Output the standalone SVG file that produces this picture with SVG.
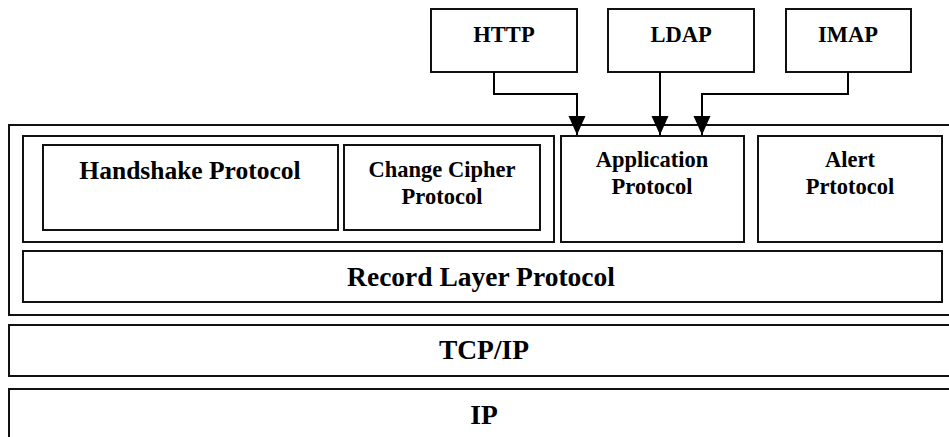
<svg xmlns="http://www.w3.org/2000/svg" width="949" height="437" viewBox="0 0 949 437">
<style>
rect{fill:#fff;stroke:#111;stroke-width:2}
text{font-family:"Liberation Serif","Times New Roman",serif;font-weight:bold;fill:#000;text-anchor:middle}
.l{font-size:27.5px}
.h{font-size:25.5px}
.m{font-size:22.5px}
.c{fill:none;stroke:#000;stroke-width:2}
</style>
<defs>
<marker id="arr" markerUnits="userSpaceOnUse" markerWidth="19" markerHeight="18" refX="19" refY="8.5" orient="auto" viewBox="0 0 19 17">
<path d="M0,0 L19,8.5 L0,17 z" fill="#000"/>
</marker>
</defs>
<g id="outer"><rect x="9" y="125" width="950" height="190"/></g>
<g id="handshake-group"><rect x="23" y="136" width="531" height="106"/></g>
<g id="handshake"><rect x="43" y="145" width="295" height="85"/><text class="h" x="190" y="179">Handshake Protocol</text></g>
<g id="change-cipher"><rect x="344" y="145" width="196" height="85"/><text class="m" x="442" y="177">Change Cipher</text><text class="m" x="442" y="204">Protocol</text></g>
<g id="application"><rect x="561" y="136" width="183" height="106"/><text class="m" x="652" y="167">Application</text><text class="m" x="652" y="194">Protocol</text></g>
<g id="alert"><rect x="758" y="136" width="184" height="106"/><text class="m" x="850" y="167">Alert</text><text class="m" x="850" y="194">Prtotocol</text></g>
<g id="record"><rect x="23" y="251" width="919" height="51"/><text class="l" x="481" y="286">Record Layer Protocol</text></g>
<g id="tcpip"><rect x="9" y="325" width="950" height="51"/><text class="l" x="484" y="359">TCP/IP</text></g>
<g id="ip"><rect x="9" y="389" width="950" height="60"/><text class="l" x="484" y="424">IP</text></g>
<g id="http"><rect x="431" y="9" width="146" height="63"/><text class="m" x="504" y="42">HTTP</text></g>
<g id="ldap"><rect x="608" y="9" width="146" height="63"/><text class="m" x="681" y="42">LDAP</text></g>
<g id="imap"><rect x="786" y="9" width="125" height="63"/><text class="m" x="848" y="42">IMAP</text></g>
<g id="connectors">
<path class="c" d="M494,72 V94 H577 V135" marker-end="url(#arr)"/>
<path class="c" d="M660,72 V135" marker-end="url(#arr)"/>
<path class="c" d="M848,72 V94 H702 V135" marker-end="url(#arr)"/>
</g>
</svg>
